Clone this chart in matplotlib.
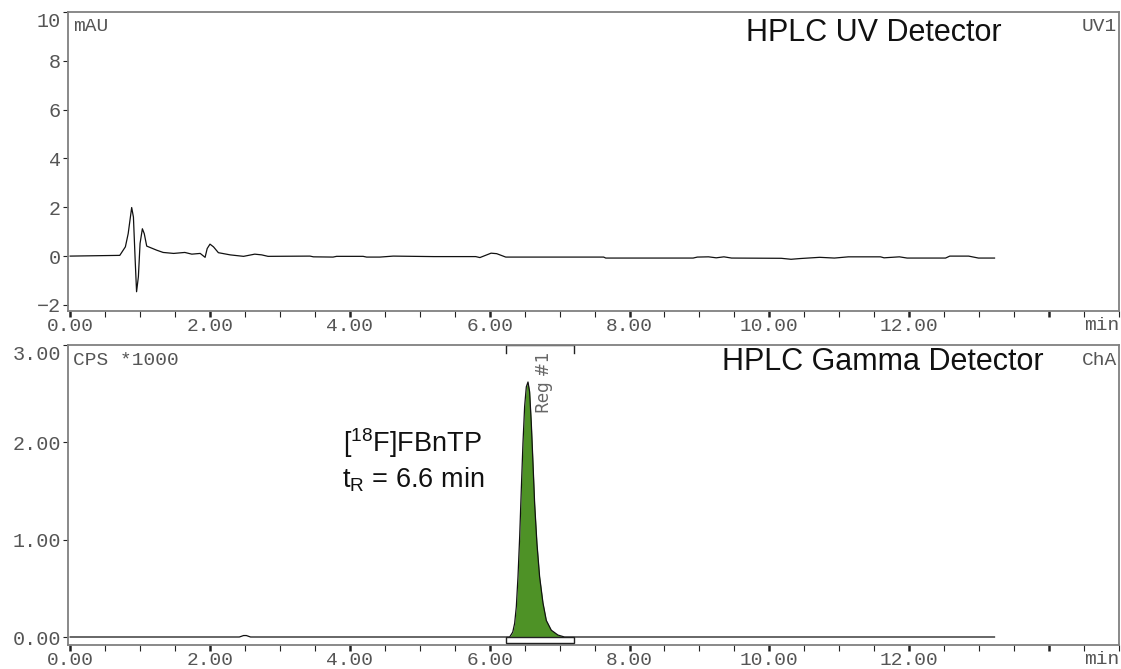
import matplotlib.pyplot as plt
from matplotlib.patches import Rectangle
from matplotlib.ticker import MultipleLocator, FuncFormatter, FixedLocator
import numpy as np

plt.rcParams['mathtext.fontset'] = 'custom'
plt.rcParams['mathtext.rm'] = 'Liberation Sans'
plt.rcParams['mathtext.it'] = 'Liberation Sans'

# UV channel, mAU vs retention time (min)
uv_time = [0.00, 0.71, 0.79, 0.83, 0.88, 0.905, 0.93, 0.95, 0.976, 1.00,
           1.033, 1.06, 1.095, 1.24, 1.33, 1.48, 1.64, 1.74, 1.86, 1.93,
           1.96, 2.00, 2.05, 2.12, 2.29, 2.48, 2.64, 2.74, 2.83, 3.43,
           3.48, 3.76, 3.81, 4.19, 4.24, 4.43, 4.62, 5.20, 5.80, 5.86,
           6.02, 6.10, 6.23, 7.63, 7.66, 8.91, 8.97, 9.13, 9.24, 9.35,
           9.46, 10.17, 10.31, 10.44, 10.72, 10.93, 11.13, 11.59, 11.64, 11.86,
           11.97, 12.52, 12.58, 12.85, 12.99, 13.22]
uv_signal = [0.00, 0.03, 0.38, 0.92, 1.99, 1.60, -0.16, -1.46, -0.84, 0.52,
             1.12, 0.92, 0.41, 0.24, 0.15, 0.11, 0.15, 0.08, 0.11, -0.05,
             0.31, 0.49, 0.38, 0.14, 0.05, -0.01, 0.08, 0.05, -0.01, 0.00,
             -0.03, -0.04, -0.01, -0.01, -0.04, -0.04, 0.00, -0.02, -0.02, -0.06,
             0.12, 0.10, -0.04, -0.04, -0.08, -0.08, -0.04, -0.03, -0.07, -0.03,
             -0.08, -0.09, -0.13, -0.10, -0.05, -0.08, -0.03, -0.03, -0.07, -0.03,
             -0.08, -0.08, 0.00, 0.00, -0.08, -0.08]

# gamma channel, CPS*1000 vs retention time (min)
gamma_time = [0.00, 2.42, 2.48, 2.52, 2.58, 6.24, 6.286, 6.33, 6.357, 6.381,
              6.405, 6.429, 6.452, 6.476, 6.50, 6.524, 6.548, 6.571, 6.595, 6.619,
              6.643, 6.676, 6.714, 6.762, 6.81, 6.881, 6.976, 7.07, 7.20, 13.22]
gamma_signal = [0.00, 0.00, 0.015, 0.015, 0.00, 0.00, 0.00, 0.05, 0.14, 0.31,
                0.62, 1.03, 1.51, 1.99, 2.37, 2.57, 2.62, 2.52, 2.20, 1.79,
                1.37, 0.96, 0.62, 0.35, 0.17, 0.07, 0.02, 0.00, 0.00, 0.00]

region_bounds = [6.24, 7.20]
region_label = 'Reg #1'
peak_name = r'[$^{18}$F]FBnTP'
peak_rt = 6.6

uv_yticks = [-2, 0, 2, 4, 6, 8, 10]
gamma_yticks = [0, 1, 2, 3]

FRAME = '#808080'
GREY_TXT = '#555555'
MONO = 'Liberation Mono'
SANS = 'Liberation Sans'


def time_fmt(x, pos):
    return f'{x:.2f}' if x <= 12.01 else ''


def style_axes(ax, ylim, yticks, ylabels):
    ax.set_xlim(-0.03, 15.0)
    ax.set_ylim(*ylim)
    for s in ax.spines.values():
        s.set_color(FRAME)
        s.set_linewidth(1.3)
    ax.xaxis.set_major_locator(MultipleLocator(2))
    ax.xaxis.set_minor_locator(MultipleLocator(0.5))
    ax.xaxis.set_major_formatter(FuncFormatter(time_fmt))
    ax.tick_params(axis='x', which='major', length=4.5, width=1.8, color='#222222',
                   pad=0.5, labelsize=14, labelcolor=GREY_TXT)
    ax.tick_params(axis='x', which='minor', length=4.5, width=0.8, color='#222222')
    ax.yaxis.set_major_locator(FixedLocator(yticks))
    ax.set_yticklabels(ylabels)
    ax.tick_params(axis='y', length=3.5, width=0.8, color='#222222', pad=1.5,
                   labelsize=14.5, labelcolor=GREY_TXT)
    for lab in ax.get_xticklabels() + ax.get_yticklabels():
        lab.set_family(MONO)
    # keep the top label inside the frame
    ax.get_yticklabels()[-1].set_va('top')
    ax.text(1.0, -0.02, 'min', transform=ax.transAxes, ha='right', va='top',
            family=MONO, size=14, color=GREY_TXT)


fig = plt.figure(figsize=(11.21, 6.69), dpi=100)
ax_uv = fig.add_axes([0.0607, 0.5351, 0.9375, 0.4469])
ax_g = fig.add_axes([0.0607, 0.0359, 0.9375, 0.4484])

# UV panel
ax_uv.plot(uv_time, uv_signal, color='#111111', lw=0.9)
style_axes(ax_uv, (-2.25, 10), uv_yticks, [f'{v:g}'.replace('-', '\u2212') for v in uv_yticks])
ax_uv.text(0.005, 0.95, 'mAU', transform=ax_uv.transAxes, ha='left', va='center',
           family=MONO, size=14, color=GREY_TXT)
ax_uv.text(0.998, 0.95, 'UV1', transform=ax_uv.transAxes, ha='right', va='center',
           family=MONO, size=14, color=GREY_TXT)
ax_uv.text(0.888, 0.93, 'HPLC UV Detector', transform=ax_uv.transAxes, ha='right',
           va='center', family=SANS, size=22, color='#111111')

# gamma panel
gt = np.array(gamma_time)
gs = np.array(gamma_signal)
in_reg = (gt >= region_bounds[0]) & (gt <= region_bounds[1])
ax_g.fill_between(gt, 0, gs, where=in_reg, color='#4e9226', lw=0)
ax_g.plot(gt, gs, color='#111111', lw=0.9)
style_axes(ax_g, (-0.082, 3.0), gamma_yticks, [f'{v:.2f}' for v in gamma_yticks])
ax_g.text(0.005, 0.948, 'CPS *1000', transform=ax_g.transAxes, ha='left', va='center',
          family=MONO, size=14, color=GREY_TXT)
ax_g.text(0.998, 0.948, 'ChA', transform=ax_g.transAxes, ha='right', va='center',
          family=MONO, size=14, color=GREY_TXT)
ax_g.text(0.928, 0.943, 'HPLC Gamma Detector', transform=ax_g.transAxes, ha='right',
          va='center', family=SANS, size=22, color='#111111')

# integration region: bracket at top, box on the baseline, label
r0, r1 = region_bounds
ax_g.plot([r0, r0, r1, r1], [2.92, 3.0, 3.0, 2.92], color='#222222', lw=1.0, clip_on=False)
ax_g.add_patch(Rectangle((r0, -0.062), r1 - r0, 0.062, facecolor='white',
                         edgecolor='#222222', lw=1.0, zorder=3))
ax_g.text((r0 + r1) / 2 + 0.06, 2.93, region_label, rotation=90, ha='center', va='top',
          family='DejaVu Sans', size=12, color='#666666')

ax_g.text(4.9, 1.82, peak_name + '\n' + r'$\mathrm{t_R}$' + f' = {peak_rt} min',
          ha='center', va='center', family=SANS, size=19.5, color='#111111',
          linespacing=1.25)

fig.savefig('out.png', dpi=100)
